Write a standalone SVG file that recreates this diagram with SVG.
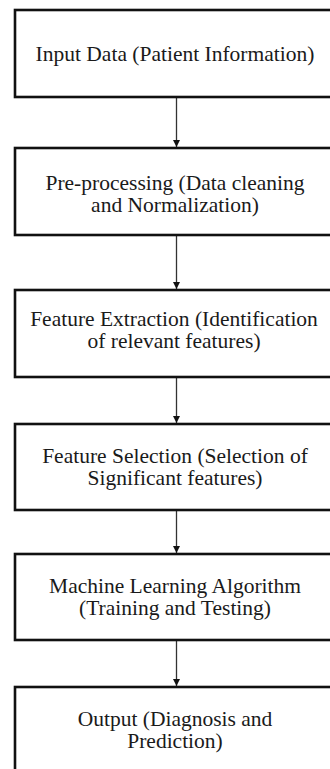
<svg xmlns="http://www.w3.org/2000/svg" width="330" height="769" viewBox="0 0 330 769">
<style>
.box{fill:#fff;stroke:#111;stroke-width:2.6}
.t{font-family:"Liberation Serif","Times New Roman",serif;font-size:21.5px;fill:#1a1a1a;text-anchor:middle}
.c{stroke:#333;stroke-width:1.3;fill:none}
</style>
<defs>
<marker id="ah" viewBox="0 0 10 10" refX="10" refY="5" markerWidth="7" markerHeight="7" markerUnits="userSpaceOnUse" orient="auto">
<path d="M0,0 L10,5 L0,10 Z" fill="#111"/>
</marker>
</defs>
<rect width="330" height="769" fill="#fff"/>
<g id="connectors">
<line class="c" x1="176.5" y1="98" x2="176.5" y2="147" marker-end="url(#ah)"/>
<line class="c" x1="176.5" y1="236" x2="176.5" y2="289" marker-end="url(#ah)"/>
<line class="c" x1="176.5" y1="378" x2="176.5" y2="423" marker-end="url(#ah)"/>
<line class="c" x1="176.5" y1="511" x2="176.5" y2="553" marker-end="url(#ah)"/>
<line class="c" x1="176.5" y1="641" x2="176.5" y2="686" marker-end="url(#ah)"/>
</g>
<g id="n1">
<rect class="box" x="15" y="10" width="340" height="87"/>
<text class="t" x="175" y="61">Input Data (Patient Information)</text>
</g>
<g id="n2">
<rect class="box" x="15" y="148" width="340" height="87"/>
<text class="t" x="175" y="190">Pre-processing (Data cleaning</text>
<text class="t" x="175" y="212">and Normalization)</text>
</g>
<g id="n3">
<rect class="box" x="15" y="290" width="340" height="87"/>
<text class="t" x="174" y="326">Feature Extraction (Identification</text>
<text class="t" x="174" y="348">of relevant features)</text>
</g>
<g id="n4">
<rect class="box" x="15" y="424" width="340" height="86"/>
<text class="t" x="175" y="463">Feature Selection (Selection of</text>
<text class="t" x="175" y="485">Significant features)</text>
</g>
<g id="n5">
<rect class="box" x="15" y="554" width="340" height="86"/>
<text class="t" x="175" y="593">Machine Learning Algorithm</text>
<text class="t" x="175" y="615">(Training and Testing)</text>
</g>
<g id="n6">
<rect class="box" x="15" y="687" width="340" height="90"/>
<text class="t" x="175" y="726">Output (Diagnosis and</text>
<text class="t" x="175" y="748">Prediction)</text>
</g>
</svg>
